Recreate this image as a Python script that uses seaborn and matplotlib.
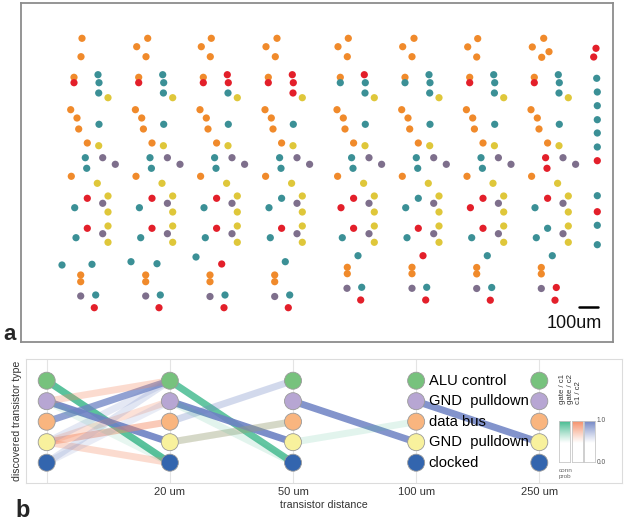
"""Chip layout of discovered transistors (a) and transistor type transitions vs distance (b)"""

import matplotlib
matplotlib.use("Agg")

import matplotlib.pyplot as plt
import numpy as np
import pandas as pd
import seaborn as sns
from matplotlib.colors import to_rgb

sns.set_theme(style="white")
plt.rcParams["font.family"] = ["Liberation Sans", "DejaVu Sans"]

W, H = 625, 521


def fx(x):
    return x / W


def fy(y):
    return 1 - y / H


# ---------------- panel a data (layout units, y grows downwards) ----------------
chip_palette = {"O": "#f08a2b", "R": "#e31f2a", "T": "#3b9096", "Y": "#dfc73a", "P": "#7e6f8c"}

# repeated transistor block, positions as in the first column
body_x = [74, 74, 98, 99, 98.7, 108, 70.7, 77, 78.7, 99, 87.3, 98.7, 85.3, 102.7,
          115.3, 86.7, 71.3, 97.3, 108, 87.3, 102.7, 74.7, 108, 108, 87.3, 102.7, 76, 108]
body_y = [77.3, 82.7, 74.7, 82.7, 93, 97.7, 109.7, 118, 129, 124.3, 143, 145.7, 157.7, 157.7,
          164.3, 168.3, 176.3, 183.3, 196, 198.3, 203.3, 207.7, 212, 226, 228.3, 233.7, 237.7, 242.3]
col_shift = [0, 64.7, 129.3, 194.3, 266.3, 331, 395.7, 460.3]
body_kinds = [
    "ORTTTYOOOTOYTPPTOYYRPTYYRPTY",
    "ORTTTYOOOTOYTPPTOYYRPTYYRPTY",
    "ORRRTYOOOTOYTPPTOYYRPTYYRPTY",
    "ORRRRYOOOTOYTPPTOYYTPTYYRPTY",
    "OTRTTYOOOTOYTPPTOYYRPRYYRPTY",
    "OTTTTYOOOTOYTPPTOYYTPTYYRPTY",
    "ORTTTYOOOTOYTPPTOYYRPRYYRPTY",
    "ORTTTYOOOTOYRPPROYYRPTYYTPTY",
]
top_cells = [
    [(82, 38.3, "O"), (81, 56.7, "O")],
    [(147.7, 38.3, "O"), (136.7, 46.7, "O"), (146, 56.7, "O")],
    [(211.3, 38.3, "O"), (201.3, 46.7, "O"), (210.3, 56.7, "O")],
    [(277, 38.3, "O"), (266, 46.7, "O"), (275.3, 56.7, "O")],
    [(348.3, 38.3, "O"), (338, 46.7, "O"), (347.3, 56.7, "O")],
    [(414, 38.3, "O"), (402.7, 46.7, "O"), (412, 56.7, "O")],
    [(477.7, 38.6, "O"), (467.7, 46.9, "O"), (476.7, 57, "O")],
    [(543.7, 38.3, "O"), (532.3, 47, "O"), (541.7, 57.3, "O"), (549, 51.7, "O")],
]
bottom_cells = [
    [(62, 265, "T"), (92, 264.3, "T"), (80.7, 275, "O"), (80.7, 281.7, "O"),
     (80.7, 296, "P"), (95.7, 295, "T"), (94.3, 307.7, "R")],
    [(131, 261.7, "T"), (157, 263.7, "T"), (145.7, 275, "O"), (145.7, 281.7, "O"),
     (145.7, 296, "P"), (160.3, 295, "T"), (159, 307.7, "R")],
    [(196, 257, "T"), (221.7, 264, "R"), (210, 275, "O"), (210, 281.7, "O"),
     (210, 296.5, "P"), (225, 295, "T"), (224, 307.7, "R")],
    [(285.3, 261.7, "T"), (274.7, 275, "O"), (274.7, 281.7, "O"),
     (274.7, 296.5, "P"), (289.7, 295, "T"), (288.3, 307.7, "R")],
    [(358, 255.7, "T"), (347.3, 267.3, "O"), (347.3, 273.7, "O"),
     (347, 288.3, "P"), (361.7, 287.3, "T"), (360.7, 300, "R")],
    [(423, 255.7, "R"), (412, 267.3, "O"), (412, 273.7, "O"),
     (412, 288.3, "P"), (426.7, 287.3, "T"), (425.7, 300, "R")],
    [(487.3, 255.7, "T"), (476.7, 267.5, "O"), (476.7, 273.9, "O"),
     (476.7, 288.5, "P"), (491.7, 287.5, "T"), (490.3, 300.2, "R")],
    [(552.3, 255.7, "T"), (541.3, 267.5, "O"), (541.3, 273.9, "O"),
     (541.3, 288.5, "P"), (556.3, 287.5, "R"), (555, 300.2, "R")],
]
edge_cells = [(596, 48.3, "R"), (593.7, 57, "R"), (596.7, 78.3, "T"), (597.3, 92, "T"),
              (597.3, 105.7, "T"), (597.3, 119.7, "T"), (597.3, 133, "T"), (597.3, 147, "T"),
              (597.3, 160.7, "R"), (597.3, 195.7, "T"), (597.3, 211.7, "R"),
              (597.3, 225.3, "T"), (597.3, 244.7, "T")]

# ---------------- panel b data ----------------
dist_labels = ["", "20 um", "50 um", "100 um", "250 um"]
type_names = ["clocked", "GND  pulldown", "data bus", "GND  pulldown", "ALU control"]  # bottom -> top
type_colors = ["#3365ae", "#f8f19d", "#f9b57f", "#b7a6d3", "#77c27d"]
conn_names = ["gate / c1", "gate / c2", "c1 / c2"]
conn_colors = ["#3db88b", "#f58a62", "#6d82c3"]

edge_step = [0, 0, 0, 0, 0, 0, 0, 0, 0, 0, 0, 1, 1, 1, 1, 1, 1, 2, 2, 3]
edge_from = [4, 3, 2, 3, 1, 1, 1, 0, 0, 1, 3, 4, 3, 2, 1, 1, 3, 3, 1, 3]
edge_to = [0, 1, 4, 4, 0, 2, 3, 4, 3, 4, 0, 0, 1, 4, 2, 2, 0, 1, 2, 1]
edge_kind = [0, 2, 2, 1, 1, 1, 1, 2, 2, 2, 0, 0, 2, 2, 1, 0, 0, 2, 0, 2]
edge_prob = [0.85, 0.9, 0.75, 0.3, 0.3, 0.45, 0.25, 0.2, 0.15, 0.18, 0.12,
             0.8, 0.9, 0.3, 0.25, 0.2, 0.15, 0.85, 0.15, 0.85]

fig = plt.figure(figsize=(6.25, 5.21), dpi=100)

# ---------------- panel a ----------------
rows = []
for shift, kinds, top, bottom in zip(col_shift, body_kinds, top_cells, bottom_cells):
    for bx, by, k in zip(body_x, body_y, kinds):
        rows.append((bx + shift, by, k))
    rows += top + bottom
rows += edge_cells
chip = pd.DataFrame(rows, columns=["x", "y", "kind"])

ax_a = fig.add_axes([fx(21.3), fy(342.3), (612.5 - 21.3) / W, (342.3 - 3.3) / H])
sns.scatterplot(data=chip, x="x", y="y", hue="kind", palette=chip_palette,
                s=27, linewidth=0, legend=False, ax=ax_a)
ax_a.set_xlim(21.3, 612.5)
ax_a.set_ylim(342.3, 3.3)
ax_a.set_xticks([])
ax_a.set_yticks([])
ax_a.set_xlabel("")
ax_a.set_ylabel("")
for sp in ax_a.spines.values():
    sp.set_color("#8c8c8c")
    sp.set_linewidth(1.3)

# scale bar: 100 um
bar_x0, bar_len, bar_y = 579, 18.7, 307.3
ax_a.plot([bar_x0, bar_x0 + bar_len], [bar_y, bar_y], color="black", lw=1.8)
ax_a.text(574, 324, "100um", ha="center", va="center", fontsize=13, color="#111")

fig.text(fx(3), fy(340), "a", fontsize=16, fontweight="bold", va="baseline")
fig.text(fx(15), fy(516.7), "b", fontsize=17, fontweight="bold", va="baseline")

# ---------------- panel b ----------------
ax_b = fig.add_axes([fx(26), fy(483.3), (621.7 - 26) / W, (483.3 - 359.3) / H])

for s, a, b, k, p in zip(edge_step, edge_from, edge_to, edge_kind, edge_prob):
    ax_b.plot([s, s + 1], [a, b], color=conn_colors[k], alpha=p, lw=5,
              solid_capstyle="butt", zorder=1)

nodes = pd.DataFrame([(i, lvl) for i in range(len(dist_labels)) for lvl in range(len(type_names))],
                     columns=["dist", "level"])
sns.scatterplot(data=nodes, x="dist", y="level", hue="level",
                palette=dict(enumerate(type_colors)), s=150, edgecolor="#9a9a9a",
                linewidth=0.6, legend=False, zorder=3, ax=ax_b)

for lvl, name in enumerate(type_names):
    ax_b.annotate(name, (3, lvl), xytext=(9, 0), textcoords="offset points",
                  ha="left", va="center", fontsize=10.6, color="black", zorder=4)

ax_b.set_xlim(-0.168, 4.669)
ax_b.set_ylim(-1.005, 5.044)
ax_b.set_xticks(range(len(dist_labels)))
ax_b.set_xticklabels(dist_labels)
ax_b.set_yticks([])
ax_b.tick_params(axis="x", length=0, pad=3, labelsize=8, labelcolor="#333333")
ax_b.xaxis.grid(True, color="#e4e4e4", lw=0.8)
ax_b.set_axisbelow(True)
ax_b.set_xlabel("transistor distance", fontsize=7.7, color="#333333", labelpad=1.5)
ax_b.set_ylabel("discovered transistor type", fontsize=7.6, color="#333333", labelpad=3)
for sp in ax_b.spines.values():
    sp.set_color("#dcdcdc")
    sp.set_linewidth(0.8)

# connection probability key
grad = np.linspace(0, 1, 100)[:, None]
bar_left = [559.3, 572, 584]
for left, col in zip(bar_left, conn_colors):
    cax = fig.add_axes([fx(left), fy(462.3), 10.7 / W, 41.3 / H])
    rgba = np.ones((100, 1, 4))
    rgba[:, 0, :3] = to_rgb(col)
    rgba[:, 0, 3] = np.clip((grad[:, 0] - 0.45) / 0.55, 0, 1) ** 1.1
    cax.imshow(rgba, origin="lower", aspect="auto", extent=(0, 1, 0, 1))
    cax.set_xticks([])
    cax.set_yticks([])
    for sp in cax.spines.values():
        sp.set_color("#c8c8c8")
        sp.set_linewidth(0.6)

for x, name in zip([562.0, 570.2, 578.4], conn_names):
    fig.text(fx(x), fy(403.5), name, rotation=90, ha="center", va="bottom",
             fontsize=5.6, color="#333333")
fig.text(fx(596.5), fy(421), "1.0", fontsize=4.8, color="#555555", va="center")
fig.text(fx(596.5), fy(462.3), "0.0", fontsize=4.8, color="#555555", va="center")
fig.text(fx(559), fy(468.5), "conn\nprob", fontsize=4.6, color="#666666", va="top",
         linespacing=1.1)

fig.savefig("out.png", dpi=100)
